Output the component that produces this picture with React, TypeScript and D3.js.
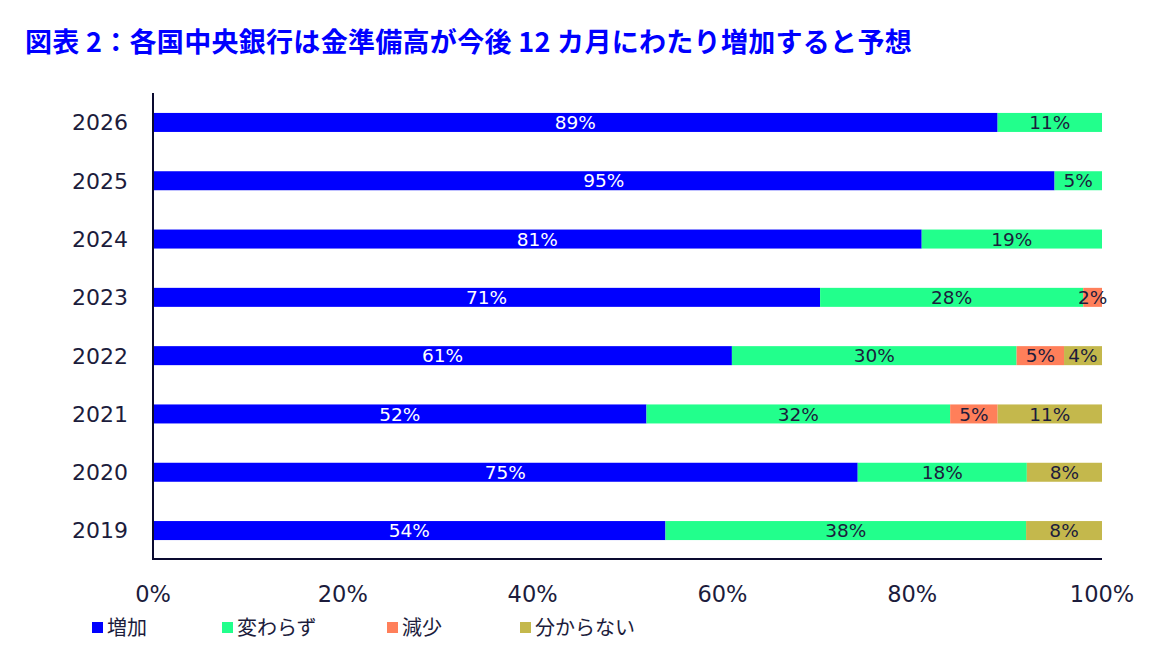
import { useRef, useEffect } from "react";
import * as d3 from "d3";

const years = ["2026", "2025", "2024", "2023", "2022", "2021", "2020", "2019"];
const seriesNames = ["増加", "変わらず", "減少", "分からない"];
const seriesColors = ["#0000ff", "#22ff8c", "#ff7f5a", "#c4b84c"];
const labelColors = ["#ffffff", "#1c1c3c", "#1c1c3c", "#1c1c3c"];

const increase = [89, 95, 81, 71, 61, 52, 75, 54];
const unchanged = [11, 5, 19, 28, 30, 32, 18, 38];
const decrease = [0, 0, 0, 2, 5, 5, 0, 0];
const unknown = [0, 0, 0, 0, 4, 11, 8, 8];

const xTicks = [0, 20, 40, 60, 80, 100];

const title = "図表 2：各国中央銀行は金準備高が今後 12 カ月にわたり増加すると予想";

export default function App() {
  const ref = useRef<SVGSVGElement>(null);

  useEffect(() => {
    const svg = d3.select(ref.current);
    svg.selectAll("*").remove();

    const x = d3.scaleLinear().domain([0, 100]).range([153, 1102]);
    const y = d3
      .scaleBand()
      .domain(years)
      .range([93, 560])
      .paddingInner(0.674)
      .paddingOuter(0.342);

    const font = "DejaVu Sans, Verdana, sans-serif";
    const ink = "#1c1c3c";

    svg
      .append("text")
      .attr("x", 25)
      .attr("y", 52)
      .attr("fill", "#0000ff")
      .attr("font-family", "Noto Sans CJK JP, sans-serif")
      .attr("font-weight", "bold")
      .attr("font-size", 27)
      .attr("letter-spacing", 0.3)
      .text(title);

    const rows = years.map((yr, i) => ({
      year: yr,
      vals: [increase[i], unchanged[i], decrease[i], unknown[i]],
    }));

    // stacked segments, normalised to each row's total
    rows.forEach((row) => {
      const total = d3.sum(row.vals);
      let acc = 0;
      row.vals.forEach((v, k) => {
        if (v <= 0) return;
        const x0 = x((acc / total) * 100);
        const x1 = x(((acc + v) / total) * 100);
        acc += v;
        const g = svg.append("g");
        g.append("rect")
          .attr("x", x0)
          .attr("y", y(row.year)!)
          .attr("width", x1 - x0)
          .attr("height", y.bandwidth())
          .attr("fill", seriesColors[k]);
        g.append("text")
          .attr("x", (x0 + x1) / 2)
          .attr("y", y(row.year)! + y.bandwidth() / 2)
          .attr("dy", "0.36em")
          .attr("text-anchor", "middle")
          .attr("font-family", font)
          .attr("font-size", 18.5)
          .attr("fill", labelColors[k])
          .text(v + "%");
      });
    });

    svg
      .append("line")
      .attr("x1", 153)
      .attr("x2", 153)
      .attr("y1", 93)
      .attr("y2", 560)
      .attr("stroke", "#0a0a30")
      .attr("stroke-width", 2);
    svg
      .append("line")
      .attr("x1", 152)
      .attr("x2", 1102)
      .attr("y1", 559)
      .attr("y2", 559)
      .attr("stroke", "#0a0a30")
      .attr("stroke-width", 2);

    svg
      .selectAll(".ylab")
      .data(years)
      .enter()
      .append("text")
      .attr("x", 128)
      .attr("y", (d) => y(d)! + y.bandwidth() / 2)
      .attr("dy", "0.36em")
      .attr("text-anchor", "end")
      .attr("font-family", font)
      .attr("font-size", 22)
      .attr("fill", ink)
      .text((d) => d);

    svg
      .selectAll(".xlab")
      .data(xTicks)
      .enter()
      .append("text")
      .attr("x", (d) => x(d))
      .attr("y", 602)
      .attr("text-anchor", "middle")
      .attr("font-family", font)
      .attr("font-size", 22.5)
      .attr("fill", ink)
      .text((d) => d + "%");

    const legendX = [92, 222, 387, 520];
    seriesNames.forEach((name, k) => {
      svg
        .append("rect")
        .attr("x", legendX[k])
        .attr("y", 622)
        .attr("width", 11)
        .attr("height", 11)
        .attr("fill", seriesColors[k]);
      svg
        .append("text")
        .attr("x", legendX[k] + 15)
        .attr("y", 628)
        .attr("dy", "0.36em")
        .attr("font-family", "Noto Sans CJK JP, sans-serif")
        .attr("font-size", 20)
        .attr("fill", ink)
        .text(name);
    });
  }, []);

  return (
    <svg
      ref={ref}
      width={1156}
      height={649}
      style={{ position: "absolute", left: 0, top: 0, background: "#fff" }}
    />
  );
}
